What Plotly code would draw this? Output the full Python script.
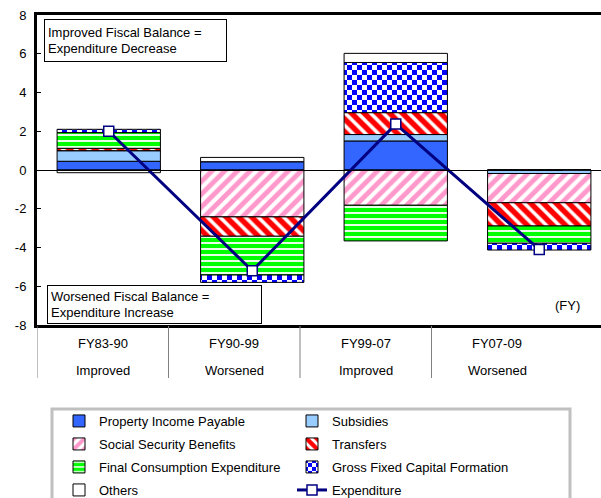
import plotly.graph_objects as go

# Fiscal periods and the direction of the fiscal balance in each
periods = ["FY83-90", "FY90-99", "FY99-07", "FY07-09"]
balance = ["Improved", "Worsened", "Improved", "Worsened"]

# Contributions to the change in expenditure (percentage points)
property_income = [0.45, 0.43, 1.50, 0.00]
subsidies = [0.55, 0.00, 0.33, -0.18]
social_security = [0.00, -2.42, -1.82, -1.51]
transfers = [0.12, -1.00, 1.13, -1.20]
final_consumption = [0.81, -2.00, -1.84, -0.89]
gross_fixed_capital = [0.17, -0.38, 2.59, -0.35]
others = [-0.14, 0.22, 0.47, 0.00]
expenditure = [2.00, -5.20, 2.37, -4.10]

y_ticks = [-8, -6, -4, -2, 0, 2, 4, 6, 8]
y_tick_labels = ["-8", "-6", "-4", "-2", "0", "2", "4", "6", "8"]

FONT = "Liberation Sans, Arial, sans-serif"
W, H = 601, 498
ML, MR, MT, MB = 37, 0, 15, 173
PLOT_W = W - ML - MR
PLOT_H = H - MT - MB
CAT_W = 143.5          # width of one category on the main axis (px)
TABLE_COL_W = 131.5    # width of one column in the period table (px)


def px_x(x):
    return (x - ML) / PLOT_W


def px_y(y):
    return (H - MB - y) / PLOT_H


bar_line = dict(color="black", width=1)
bar_w = 0.72

series = [
    ("Property Income Payable", property_income,
     dict(color="#3366FF", line=bar_line), "legend"),
    ("Subsidies", subsidies,
     dict(color="#99CCFF", line=bar_line), "legend"),
    ("Social Security Benefits", social_security,
     dict(color="white", line=bar_line,
          pattern=dict(shape="/", fgcolor="#FF99CC", bgcolor="white",
                       fgopacity=1, size=9, solidity=0.55)), "legend2"),
    ("Transfers", transfers,
     dict(color="white", line=bar_line,
          pattern=dict(shape="\\", fgcolor="#FF0000", bgcolor="white",
                       fgopacity=1, size=9, solidity=0.6)), "legend2"),
    ("Final Consumption Expenditure", final_consumption,
     dict(color="white", line=bar_line,
          pattern=dict(shape="-", fgcolor="#00FF00", bgcolor="white",
                       fgopacity=1, size=6, solidity=0.7)), "legend3"),
    ("Gross Fixed Capital Formation", gross_fixed_capital,
     dict(color="white", line=bar_line,
          pattern=dict(path="M0,0H5V5H0ZM5,5H10V10H5Z", fgcolor="#0000FF",
                       fgopacity=1, bgcolor="white", size=10,
                       solidity=1)), "legend3"),
    ("Others", others,
     dict(color="white", line=bar_line), "legend4"),
]

fig = go.Figure()
for name, vals, marker, leg in series:
    fig.add_trace(go.Bar(x=periods, y=vals, name=name, width=bar_w,
                         marker=marker, legend=leg))

fig.add_trace(go.Scatter(
    x=periods, y=expenditure, name="Expenditure", mode="lines+markers",
    line=dict(color="#000080", width=3),
    marker=dict(symbol="square", size=10, color="white",
                line=dict(color="#000080", width=1.5)),
    legend="legend4"))

x_range = [-0.5, -0.5 + PLOT_W / CAT_W]

annotations = [
    dict(text="Improved Fiscal Balance =<br>Expenditure Decrease",
         xref="paper", yref="paper", x=px_x(44), y=px_y(19),
         xanchor="left", yanchor="top", showarrow=False, align="left",
         width=175, height=35, borderpad=3, bordercolor="black",
         borderwidth=1, bgcolor="white",
         font=dict(size=13, color="black")),
    dict(text="Worsened Fiscal Balance =<br>Expenditure Increase",
         xref="paper", yref="paper", x=px_x(47), y=px_y(285),
         xanchor="left", yanchor="top", showarrow=False, align="left",
         width=207, height=31, borderpad=3, bordercolor="black",
         borderwidth=1, bgcolor="white",
         font=dict(size=13, color="black")),
    dict(text="(FY)", xref="paper", yref="paper", x=px_x(567), y=px_y(305),
         xanchor="center", yanchor="middle",
         showarrow=False, font=dict(size=13, color="black")),
]

# Period table under the plot: two rows of labels per column
for i, (p, b) in enumerate(zip(periods, balance)):
    annotations.append(dict(text=p, xref="x2", yref="paper", x=i,
                            y=px_y(343), xanchor="center", yanchor="middle",
                            showarrow=False,
                            font=dict(size=13, color="black")))
    annotations.append(dict(text=b, xref="x2", yref="paper", x=i,
                            y=px_y(370), xanchor="center", yanchor="middle",
                            showarrow=False,
                            font=dict(size=13, color="black")))

shapes = []
for k in range(len(periods)):
    shapes.append(dict(type="line", xref="x2", yref="paper",
                       x0=k - 0.5, x1=k - 0.5, y0=px_y(326), y1=px_y(378),
                       line=dict(color="#808080", width=1)))

# Frame around the legend rows
shapes.append(dict(type="rect", xref="paper", yref="paper",
                   x0=px_x(52), x1=px_x(570), y0=px_y(409), y1=px_y(520),
                   line=dict(color="#C0C0C0", width=3), fillcolor="white",
                   layer="below"))

legend_common = dict(orientation="h", xanchor="left", yanchor="middle",
                     xref="container", yref="container",
                     bgcolor="rgba(0,0,0,0)", borderwidth=0,
                     entrywidth=188, entrywidthmode="pixels",
                     traceorder="normal",
                     font=dict(size=13, color="black", family=FONT))
row_y = [421, 444, 467, 490]
legend_x = 59 / W


def row_pos(y):
    return (H - y) / H


fig.update_layout(
    width=W, height=H, autosize=False,
    margin=dict(l=ML, r=MR, t=MT, b=MB, pad=0),
    paper_bgcolor="white", plot_bgcolor="rgba(0,0,0,0)",
    font=dict(family=FONT, color="black", size=13),
    barmode="relative",
    showlegend=True,
    legend=dict(legend_common, x=legend_x, y=row_pos(row_y[0])),
    legend2=dict(legend_common, x=legend_x, y=row_pos(row_y[1])),
    legend3=dict(legend_common, x=legend_x, y=row_pos(row_y[2])),
    legend4=dict(legend_common, x=legend_x, y=row_pos(row_y[3])),
    xaxis=dict(type="category", range=x_range, showticklabels=False,
               ticks="", showgrid=False, zeroline=False,
               showline=True, mirror=True, linecolor="black", linewidth=3),
    xaxis2=dict(anchor="y", domain=[0, 4 * TABLE_COL_W / PLOT_W],
                range=[-0.5, 3.5], showticklabels=False, ticks="",
                showgrid=False, zeroline=False, showline=False),
    xaxis3=dict(overlaying="x", side="top", anchor="free", position=0.5,
                range=x_range, tickmode="array", tickvals=[0.5, 1.5, 2.5],
                ticks="outside", ticklen=5, tickwidth=1, tickcolor="black",
                showticklabels=False, showgrid=False, zeroline=False,
                showline=False),
    yaxis=dict(range=[-8, 8], tickmode="array", tickvals=y_ticks,
               ticktext=y_tick_labels, ticks="inside", ticklen=4,
               tickwidth=1, tickcolor="black", ticklabelstandoff=5,
               tickfont=dict(size=13, color="black"),
               showgrid=False, zeroline=True, zerolinecolor="black",
               zerolinewidth=1, showline=True, linecolor="black",
               linewidth=3),
    annotations=annotations,
    shapes=shapes,
)

fig.write_html("out.html")
